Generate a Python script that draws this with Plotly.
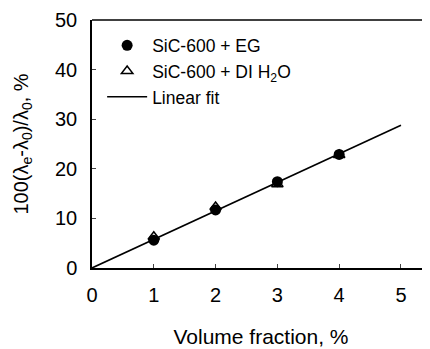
import plotly.graph_objects as go

vol = [1, 2, 3, 4]
eg_vals = [5.6, 11.7, 17.4, 22.9]
di_vals = [6.3, 12.3, 16.9, 22.8]
fit_x = [0, 5]
fit_y = [0, 28.8]

FONT = "Liberation Sans, Arial, sans-serif"

fig = go.Figure()
fig.add_trace(go.Scatter(x=fit_x, y=fit_y, mode="lines", name="Linear fit",
                         line=dict(color="black", width=1.6), legendrank=3))
fig.add_trace(go.Scatter(x=vol, y=eg_vals, mode="markers", name="SiC-600 + EG",
                         marker=dict(symbol="circle", size=11, color="black"), legendrank=1))
fig.add_trace(go.Scatter(x=vol, y=di_vals, mode="markers", name="SiC-600 + DI H<sub>2</sub>O",
                         marker=dict(symbol="triangle-up-open", size=10, color="black",
                                     line=dict(width=1.5, color="black")), legendrank=2))

fig.update_layout(
    width=422, height=341,
    margin=dict(l=84, r=0, t=12, b=81, autoexpand=False),
    paper_bgcolor="white", plot_bgcolor="white",
    font=dict(family=FONT, color="black", size=20),
    showlegend=True,
    legend=dict(x=0.03, y=0.97, xanchor="left", yanchor="top",
                font=dict(size=17.5, family=FONT), bgcolor="rgba(0,0,0,0)",
                tracegroupgap=0, itemwidth=40),
    xaxis=dict(range=[0, 5.47], tickvals=[0, 1, 2, 3, 4, 5], ticks="inside", ticklen=4,
               showline=True, linecolor="black", linewidth=1.5, showgrid=False, zeroline=False,
               mirror=False, ticklabelstandoff=8, automargin=False,
               tickfont=dict(size=20),
               title=dict(text="Volume fraction, %", font=dict(size=21), standoff=25)),
    yaxis=dict(range=[0, 50], tickvals=[0, 10, 20, 30, 40, 50], ticks="inside", ticklen=4,
               showline=True, linecolor="black", linewidth=1.5, showgrid=False, zeroline=False,
               ticklabelstandoff=9, automargin=False,
               tickfont=dict(size=20),
               title=dict(text="100(λ<sub>e</sub>-λ<sub>0</sub>)/λ<sub>0</sub>, %", font=dict(size=20), standoff=21)),
)
fig.add_shape(type="line", xref="paper", yref="paper", x0=0, x1=1, y0=1, y1=1,
              line=dict(color="black", width=1.5))

fig.write_html("out.html")
